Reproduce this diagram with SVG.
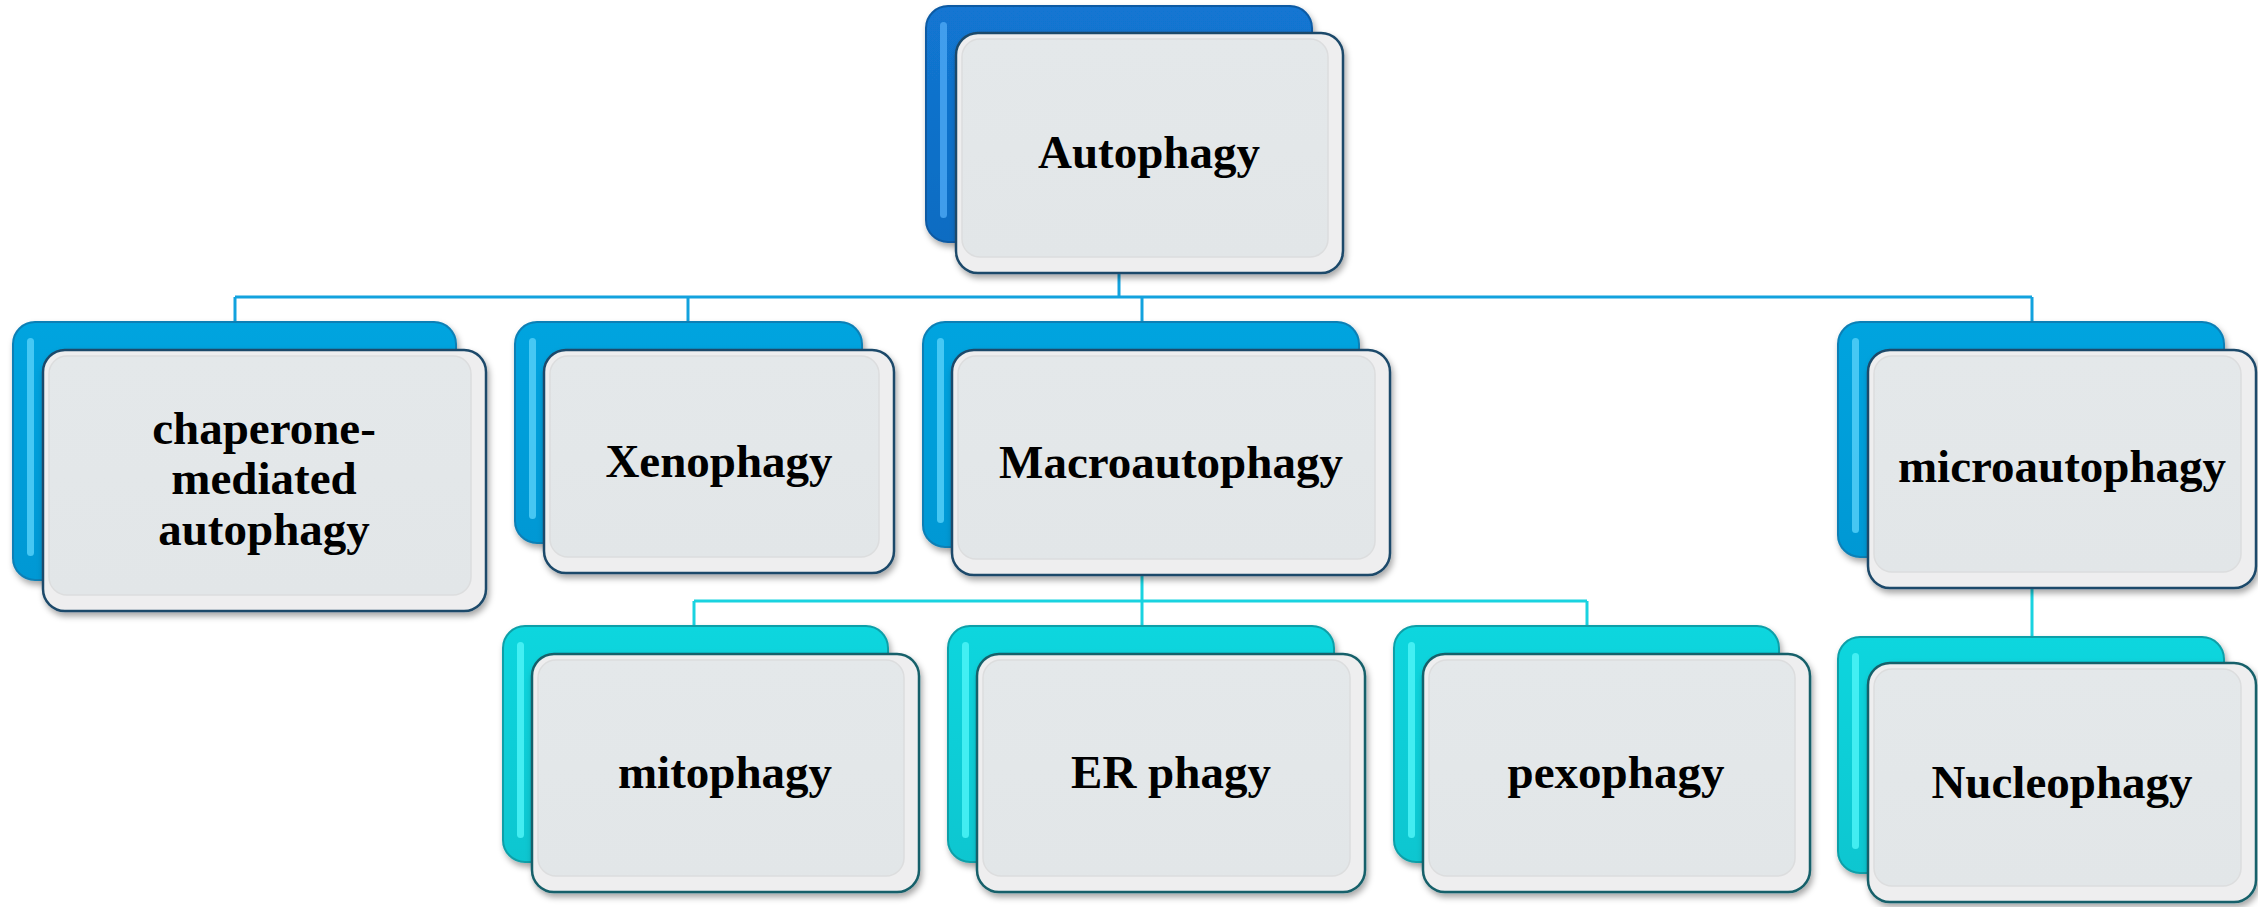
<svg xmlns="http://www.w3.org/2000/svg" width="2258" height="907" viewBox="0 0 2258 907">
  <defs>
    <filter id="sh" x="-10%" y="-10%" width="125%" height="130%">
      <feDropShadow dx="2" dy="4" stdDeviation="3" flood-color="#000" flood-opacity="0.35"/>
    </filter>
    <linearGradient id="gDark" x1="0" y1="0" x2="0" y2="1">
      <stop offset="0" stop-color="#1276D2"/>
      <stop offset="1" stop-color="#0F6CC2"/>
    </linearGradient>
    <linearGradient id="gBlue" x1="0" y1="0" x2="0" y2="1">
      <stop offset="0" stop-color="#04A4DF"/>
      <stop offset="1" stop-color="#0398D4"/>
    </linearGradient>
    <linearGradient id="gCyan" x1="0" y1="0" x2="0" y2="1">
      <stop offset="0" stop-color="#0FD6DE"/>
      <stop offset="1" stop-color="#0AC6D0"/>
    </linearGradient>
    <linearGradient id="gFront" x1="0" y1="0" x2="0" y2="1">
      <stop offset="0" stop-color="#E4E8EA"/>
      <stop offset="1" stop-color="#E2E6E8"/>
    </linearGradient>
  </defs>
  <style>
    .conn1 { fill: none; stroke: #12A2DE; stroke-width: 3; }
    .conn2 { fill: none; stroke: #19D3E0; stroke-width: 3; }
    .backDark { fill: url(#gDark); stroke: #0C5AA3; stroke-width: 2; filter: url(#sh); }
    .backBlue { fill: url(#gBlue); stroke: #0A7FB5; stroke-width: 2; filter: url(#sh); }
    .backCyan { fill: url(#gCyan); stroke: #0B9FA8; stroke-width: 2; filter: url(#sh); }
    .hlDark { fill: #4AA6F2; opacity: 0.85; }
    .hlBlue { fill: #52CFF8; opacity: 0.85; }
    .hlCyan { fill: #4DF3F7; opacity: 0.85; }
    .front { fill: #EEEEEF; stroke: #1D4A6A; stroke-width: 2.5; filter: url(#sh); }
    .frontC { fill: #EEEEEF; stroke: #17616B; stroke-width: 2.5; filter: url(#sh); }
    .inner { fill: url(#gFront); stroke: #DCDDDE; stroke-width: 1.5; }
    .lbl { font-family: "Liberation Serif", "Times New Roman", serif; font-weight: bold; font-size: 47px; fill: #000; text-anchor: middle; }
  </style>

  <g id="connectors">
    <path class="conn1" d="M1119 273 V297"/>
    <path class="conn1" d="M235 297 H2032"/>
    <path class="conn1" d="M235 297 V322"/>
    <path class="conn1" d="M688 297 V322"/>
    <path class="conn1" d="M1142 297 V322"/>
    <path class="conn1" d="M2032 297 V322"/>
    <path class="conn2" d="M1142 575 V626"/>
    <path class="conn2" d="M694 601 H1587"/>
    <path class="conn2" d="M694 601 V626"/>
    <path class="conn2" d="M1587 601 V626"/>
    <path class="conn2" d="M2032 588 V637"/>
  </g>

  <g id="node-autophagy">
    <rect class="backDark" x="926" y="6" width="386" height="236" rx="22"/>
    <rect class="hlDark" x="940" y="22" width="7" height="196" rx="3.5"/>
    <rect class="front" x="956" y="33" width="387" height="240" rx="22"/>
    <rect class="inner" x="962" y="39" width="366" height="218" rx="18"/>
    <text class="lbl" x="1149" y="168">Autophagy</text>
  </g>

  <g id="node-chaperone">
    <rect class="backBlue" x="13" y="322" width="443" height="258" rx="22"/>
    <rect class="hlBlue" x="27" y="338" width="7" height="218" rx="3.5"/>
    <rect class="front" x="43" y="350" width="443" height="261" rx="22"/>
    <rect class="inner" x="49" y="356" width="422" height="239" rx="18"/>
    <text class="lbl" x="264" y="444">chaperone-</text>
    <text class="lbl" x="264" y="494">mediated</text>
    <text class="lbl" x="264" y="545">autophagy</text>
  </g>

  <g id="node-xenophagy">
    <rect class="backBlue" x="515" y="322" width="347" height="221" rx="22"/>
    <rect class="hlBlue" x="529" y="338" width="7" height="181" rx="3.5"/>
    <rect class="front" x="544" y="350" width="350" height="223" rx="22"/>
    <rect class="inner" x="550" y="356" width="329" height="201" rx="18"/>
    <text class="lbl" x="719" y="477">Xenophagy</text>
  </g>

  <g id="node-macroautophagy">
    <rect class="backBlue" x="923" y="322" width="436" height="225" rx="22"/>
    <rect class="hlBlue" x="937" y="338" width="7" height="185" rx="3.5"/>
    <rect class="front" x="952" y="350" width="438" height="225" rx="22"/>
    <rect class="inner" x="958" y="356" width="417" height="203" rx="18"/>
    <text class="lbl" x="1171" y="478">Macroautophagy</text>
  </g>

  <g id="node-microautophagy">
    <rect class="backBlue" x="1838" y="322" width="386" height="235" rx="22"/>
    <rect class="hlBlue" x="1852" y="338" width="7" height="195" rx="3.5"/>
    <rect class="front" x="1868" y="350" width="388" height="238" rx="22"/>
    <rect class="inner" x="1874" y="356" width="367" height="216" rx="18"/>
    <text class="lbl" x="2062" y="482">microautophagy</text>
  </g>

  <g id="node-mitophagy">
    <rect class="backCyan" x="503" y="626" width="385" height="236" rx="22"/>
    <rect class="hlCyan" x="517" y="642" width="7" height="196" rx="3.5"/>
    <rect class="frontC" x="532" y="654" width="387" height="238" rx="22"/>
    <rect class="inner" x="538" y="660" width="366" height="216" rx="18"/>
    <text class="lbl" x="725" y="788">mitophagy</text>
  </g>

  <g id="node-erphagy">
    <rect class="backCyan" x="948" y="626" width="386" height="236" rx="22"/>
    <rect class="hlCyan" x="962" y="642" width="7" height="196" rx="3.5"/>
    <rect class="frontC" x="977" y="654" width="388" height="238" rx="22"/>
    <rect class="inner" x="983" y="660" width="367" height="216" rx="18"/>
    <text class="lbl" x="1171" y="788">ER phagy</text>
  </g>

  <g id="node-pexophagy">
    <rect class="backCyan" x="1394" y="626" width="385" height="236" rx="22"/>
    <rect class="hlCyan" x="1408" y="642" width="7" height="196" rx="3.5"/>
    <rect class="frontC" x="1423" y="654" width="387" height="238" rx="22"/>
    <rect class="inner" x="1429" y="660" width="366" height="216" rx="18"/>
    <text class="lbl" x="1616" y="788">pexophagy</text>
  </g>

  <g id="node-nucleophagy">
    <rect class="backCyan" x="1838" y="637" width="386" height="236" rx="22"/>
    <rect class="hlCyan" x="1852" y="653" width="7" height="196" rx="3.5"/>
    <rect class="frontC" x="1868" y="663" width="388" height="239" rx="22"/>
    <rect class="inner" x="1874" y="669" width="367" height="217" rx="18"/>
    <text class="lbl" x="2062" y="798">Nucleophagy</text>
  </g>
</svg>
